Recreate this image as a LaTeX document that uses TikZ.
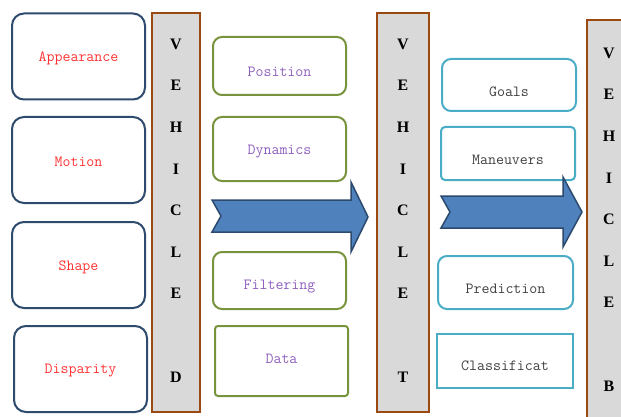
\documentclass[tikz,border=0pt]{standalone}
\usepackage{fontspec}
\newfontfamily\letterfont{Liberation Serif}
\usepackage{tikz}
\usetikzlibrary{positioning}

\definecolor{boxblue}{HTML}{2E4B6E}
\definecolor{boxgreen}{HTML}{77933C}
\definecolor{boxcyan}{HTML}{4BACC6}
\definecolor{barbrown}{HTML}{9A4A10}
\definecolor{bargray}{HTML}{D9D9D9}
\definecolor{arrfill}{HTML}{4F81BD}
\definecolor{arrline}{HTML}{2C4A6E}
\definecolor{txtred}{HTML}{FF3333}
\definecolor{txtpurple}{HTML}{8F5FBF}
\definecolor{txtgray}{HTML}{404040}

\begin{document}
\begin{tikzpicture}[x=1pt,y=-1pt,font=\ttfamily\fontsize{15.5}{17}\selectfont,
  lbox/.style={draw=boxblue,line width=2pt,rounded corners=12pt,text=txtred,
    minimum width=133pt,minimum height=86pt},
  gbox/.style={draw=boxgreen,line width=2pt,rounded corners=9pt,minimum width=133pt},
  cbox/.style={draw=boxcyan,line width=2pt,rounded corners=9pt,minimum width=134pt},
  gtxt/.style={text=txtpurple},
  ctxt/.style={text=txtgray},
  bar/.style={draw=barbrown,fill=bargray,line width=2pt},
  letter/.style={font=\letterfont\fontsize{16}{18}\selectfont\bfseries},
  bigarrow/.style={draw=arrline,fill=arrfill,line width=1.5pt,line join=miter}]
  \clip (0,0) rectangle (621,417);
  % left column
  \node[lbox] (app)  at (78.5,56.5) {};
  \node[text=txtred] (app-t)  at (78.5,58)  {Appearance};
  \node[lbox] (mot)  at (78.5,160)  {};
  \node[text=txtred] (mot-t)  at (78.5,162) {Motion};
  \node[lbox] (shp)  at (78.5,265)  {};
  \node[text=txtred] (shp-t)  at (78.5,267) {Shape};
  \node[lbox] (disp) at (80.5,369)  {};
  \node[text=txtred] (disp-t) at (80.5,371) {Disparity};
  % bars
  \node[bar,minimum width=48pt,minimum height=399pt] (bar1) at (176,212.5) {};
  \node[bar,minimum width=52pt,minimum height=399pt] (bar2) at (403,212.5) {};
  \node[bar,minimum width=44pt,minimum height=412pt] (bar3) at (609,226) {};
  \foreach \l/\k in {V/0,E/1,H/2,I/3,C/4,L/5,E/6,D/8}
    \node[letter] (d\k) at (176,44+41.6*\k) {\l};
  \foreach \l/\k in {V/0,E/1,H/2,I/3,C/4,L/5,E/6,T/8}
    \node[letter] (t\k) at (403,44+41.6*\k) {\l};
  \foreach \l/\k in {V/0,E/1,H/2,I/3,C/4,L/5,E/6,B/8}
    \node[letter] (b\k) at (609,53+41.6*\k) {\l};
  % middle column
  \node[gbox,minimum height=58pt] (pos) at (279.5,66) {};
  \node[gtxt] (pos-t) at (279.5,72) {Position};
  \node[gbox,minimum height=64pt] (dyn) at (279.5,149) {};
  \node[gtxt] (dyn-t) at (279.5,151.5) {Dynamics};
  \node[gbox,minimum height=57pt] (fil) at (279.5,280.5) {};
  \node[gtxt] (fil-t) at (279.5,287) {Filtering};
  \node[gbox,rounded corners=3pt,minimum height=70pt] (dat) at (281.5,361) {};
  \node[gtxt] (dat-t) at (281.5,358.5) {Data};
  % right column
  \node[cbox,minimum height=52pt] (goal) at (509,85) {};
  \node[ctxt] (goal-t) at (509,92) {Goals};
  \node[cbox,rounded corners=4pt,minimum height=53pt] (man) at (508,153.5) {};
  \node[ctxt] (man-t) at (508,160) {Maneuvers};
  \node[cbox,minimum height=53pt,minimum width=135pt] (pred) at (505.5,282.5) {};
  \node[ctxt] (pred-t) at (505.5,289) {Prediction};
  \node[cbox,rounded corners=0pt,minimum height=54pt,minimum width=136pt] (cls) at (505,361) {};
  \node[ctxt] (cls-t) at (505,366) {Classificat};
  % arrows
  \draw[bigarrow] (212,200) -- (351,200) -- (351,182) -- (368,217) -- (351,252)
    -- (351,232) -- (212,232) -- (221,216) -- cycle;
  \draw[bigarrow] (441,196) -- (563,196) -- (563,177) -- (582,212) -- (563,247)
    -- (563,228) -- (441,228) -- (450,212) -- cycle;
\end{tikzpicture}
\end{document}
